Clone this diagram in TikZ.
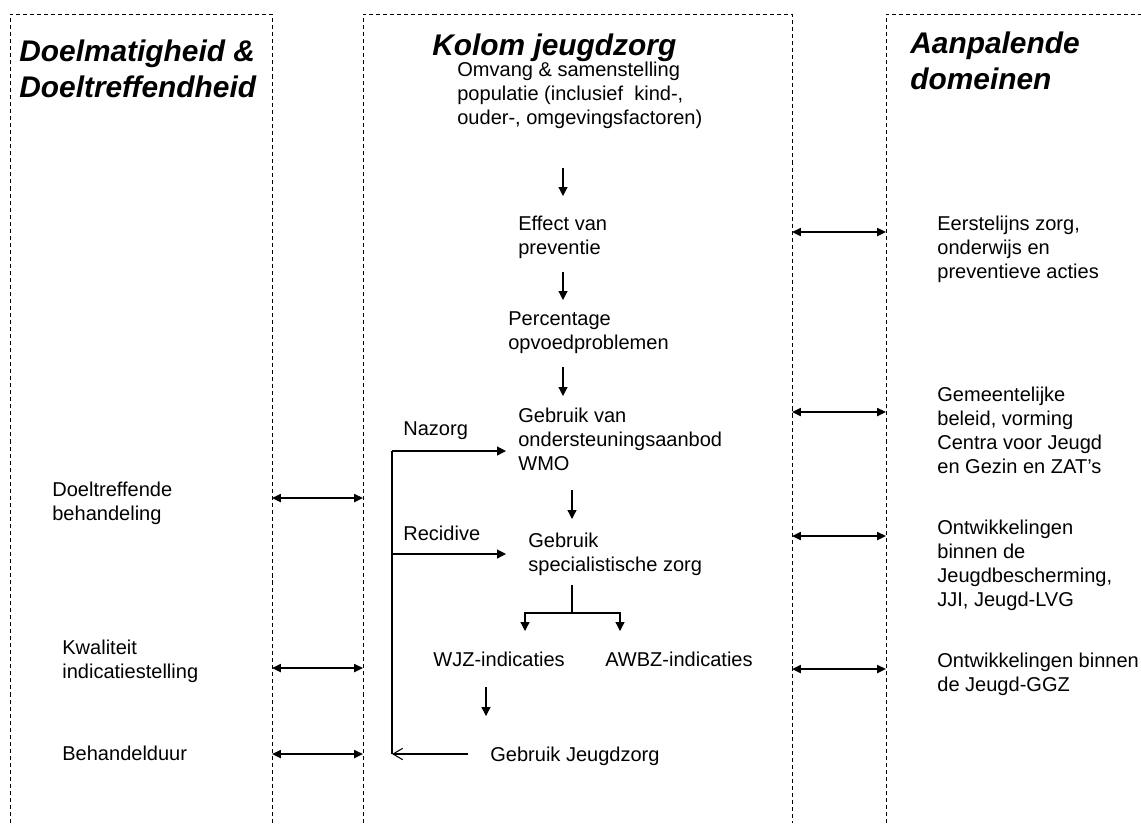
\documentclass[tikz,border=0pt]{standalone}
\usepackage{fontspec}
\setmainfont{Liberation Sans}
\usetikzlibrary{arrows.meta}
\tikzset{
%Define standard arrow tip
>={Triangle[length=5pt,width=5pt]},
%Define style for different line styles
column line/.style={dash pattern=on 2.3pt off 1.7pt, line width=0.5pt},
flow/.style={->, line width=0.7pt},
twoway/.style={{Triangle[length=5pt,width=4.5pt]}-{Triangle[length=5pt,width=4.5pt]}, line width=1.1pt},
back/.style={-{Straight Barb[length=5.5pt,width=6.5pt]}, line width=0.6pt},
%Define style for texts
txt/.style={anchor=north west, align=left, inner sep=0pt, font=\fontsize{11.4pt}{13.66pt}\selectfont},
head/.style={anchor=north west, align=left, inner sep=0pt, font=\fontsize{17pt}{20.5pt}\selectfont\bfseries\itshape},
}

\begin{document}
\begin{tikzpicture}[x=0.02cm,y=-0.02cm]
\useasboundingbox (0,0) rectangle (1141,823);

% columns
\draw[column line] (10,823) -- (10,14) -- (272,14) -- (272,823);
\draw[column line] (363,823) -- (363,14) -- (792,14) -- (792,823);
\draw[column line] (886,823) -- (886,14) -- (1141,14);

% titles
\node[head] (doel) at (19,39) {Doelmatigheid \&\\Doeltreffendheid};
\node[head] (kolom) at (432,33) {Kolom jeugdzorg};
\node[head] (aanpalend) at (910,31) {Aanpalende\\domeinen};

% kolom jeugdzorg
\node[txt] (omvang) at (457,62) {Omvang \& samenstelling\\populatie (inclusief\ \ kind-,\\ouder-, omgevingsfactoren)};
\node[txt] (effect) at (518,216) {Effect van\\preventie};
\node[txt] (opvoed) at (508,311) {Percentage\\opvoedproblemen};
\node[txt] (wmo) at (518,408) {Gebruik van\\ondersteuningsaanbod\\WMO};
\node[txt] (nazorg) at (403,421) {Nazorg};
\node[txt] (recidive) at (403,526) {Recidive};
\node[txt] (specialist) at (528,533) {Gebruik\\specialistische zorg};
\node[txt] (wjz) at (433,652) {WJZ-indicaties};
\node[txt] (awbz) at (605,652) {AWBZ-indicaties};
\node[txt] (jeugdzorg) at (490,747) {Gebruik Jeugdzorg};

% doelmatigheid
\node[txt] (doeltreffend) at (52,482) {Doeltreffende\\behandeling};
\node[txt] (kwaliteit) at (62,640) {Kwaliteit\\indicatiestelling};
\node[txt] (duur) at (62,746) {Behandelduur};

% aanpalende domeinen
\node[txt] (eerstelijns) at (937,216) {Eerstelijns zorg,\\onderwijs en\\preventieve acties};
\node[txt] (gemeente) at (937,387) {Gemeentelijke\\beleid, vorming\\Centra voor Jeugd\\en Gezin en ZAT’s};
\node[txt] (bescherming) at (937,520) {Ontwikkelingen\\binnen de\\Jeugdbescherming,\\JJI, Jeugd-LVG};
\node[txt] (ggz) at (937,653) {Ontwikkelingen binnen\\de Jeugd-GGZ};

% flow down the column
\foreach \n/\x/\ya/\yb in {p1/563/168/196, p2/563/272/300, p3/563/367/396, p4/572/490/519, p5/486/687/716}{
  \coordinate (\n s) at (\x,\ya);
  \coordinate (\n e) at (\x,\yb);
  \draw[flow] (\n s) -- (\n e);
}

% split to indicaties
\coordinate (splittop) at (572,585);
\coordinate (splitmid) at (572,613);
\coordinate (towjz) at (525,631);
\coordinate (toawbz) at (620,631);
\draw[line width=0.7pt] (splittop) -- (splitmid);
\draw[flow] (splitmid) -| (towjz);
\draw[flow] (splitmid) -| (toawbz);

% nazorg and recidive loop
\coordinate (looptop) at (392,451);
\coordinate (loopmid) at (392,554);
\coordinate (loopbot) at (392,754);
\coordinate (intowmo) at (506,451);
\coordinate (intospec) at (506,554);
\coordinate (fromjz) at (468,754);
\draw[line width=0.7pt] (looptop) -- (loopbot);
\draw[flow] (looptop) -- (intowmo);
\draw[flow] (loopmid) -- (intospec);
\draw[back] (fromjz) -- (loopbot);

% links to the side columns
\foreach \n/\xa/\xb/\y in {l1/272/363/498, l2/272/363/668, l3/272/363/754, r1/792/886/232, r2/792/886/412, r3/792/886/536, r4/792/886/669}{
  \coordinate (\n w) at (\xa,\y);
  \coordinate (\n e) at (\xb,\y);
  \draw[twoway] (\n w) -- (\n e);
}

\end{tikzpicture}
\end{document}
